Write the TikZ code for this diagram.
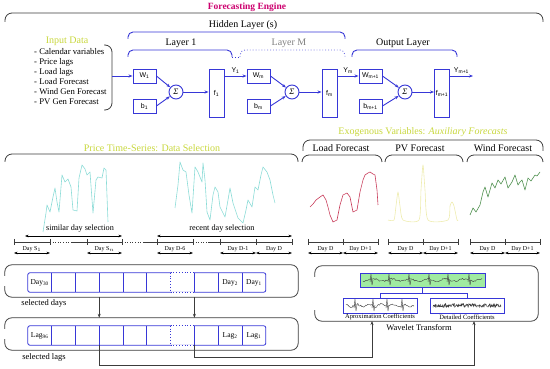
\documentclass[tikz,border=0pt]{standalone}
\usepackage{fontspec}
\setmainfont{Liberation Serif}
\newfontfamily\arialfont{Liberation Sans}
\usetikzlibrary{arrows.meta,positioning,calc}
\definecolor{engine}{RGB}{204,0,110}
\definecolor{lime}{RGB}{200,215,60}
\definecolor{nnblue}{RGB}{55,55,215}
\definecolor{pricecol}{RGB}{140,220,215}
\definecolor{loadcol}{RGB}{200,60,90}
\definecolor{pvcol}{RGB}{238,236,175}
\definecolor{windcol}{RGB}{80,145,80}
\definecolor{wavefill}{RGB}{160,235,160}
\definecolor{brkgray}{RGB}{60,60,60}
\newcommand{\fsz}[1]{\fontsize{#1}{#1}\selectfont}
\tikzset{
  lbl/.style={font=\fsz{10}, inner sep=0pt},
  headlbl/.style={lbl, text=lime},
  nn/.style={draw=nnblue, line width=0.9pt, fill=white, font=\arialfont\fsz{7}, inner sep=0pt, text=black},
  wbox/.style={nn, minimum width=23pt, minimum height=14pt},
  fbox/.style={nn, minimum width=15pt, minimum height=48pt},
  sumnode/.style={nn, circle, minimum size=14pt, font=\itshape\fsz{8.5}},
  ylbl/.style={font=\arialfont\fsz{7}, inner sep=0pt, text=black, above=2pt},
  wire/.style={-{Stealth[length=4pt]}, nnblue, line width=0.9pt},
  brk/.style={draw=brkgray, line width=0.8pt, rounded corners=7pt},
  lbrk/.style={draw=nnblue, line width=0.9pt, rounded corners=5pt},
  tl/.style={brkgray, line width=0.6pt},
  dspan/.style={{Stealth[length=3.5pt]}-{Stealth[length=3.5pt]}, line width=0.7pt, black},
  daylbl/.style={font=\fsz{6}, inner sep=0.5pt},
  cell/.style={minimum width=23.4pt, minimum height=19pt, inner sep=0pt, font=\fsz{7.5}},
  cellline/.style={nnblue, line width=0.8pt},
  gapframe/.style={minimum height=32pt, inner sep=0pt},
  feed/.style={-{Stealth[length=4pt]}, brkgray, line width=0.8pt},
  sig/.style={line width=0.6pt, line join=round},
  wsig/.style={brkgray, line width=0.4pt, line join=round},
  coef/.style={draw=nnblue, line width=0.8pt, fill=white, minimum width=74pt, minimum height=15pt}
}
% frame with the middle of its left side left open
\newcommand{\openframe}[1]{\draw[brk] ($(#1.north west)+(0,-11pt)$) |- (#1.north east) -- (#1.south east) -| ($(#1.south west)+(0,11pt)$);}
\newcommand{\dayspan}[3]{\draw[dspan] (#1,253) -- node[daylbl, above=0.5pt] {#3} (#2,253);}

\begin{document}
\begin{tikzpicture}[x=1pt, y=-1pt]
\useasboundingbox (0,0) rectangle (550,369);
\pgfmathsetseed{3}

% forecasting engine
\node[font=\bfseries\fsz{9.5}, text=engine] (title) at (247,7) {Forecasting Engine};
\draw[brk] (5,22) |- (275,13) -| (543,22);
\node[lbl] (hidden) at (243,25) {Hidden Layer (s)};
\draw[lbrk] (128,39) |- (240,32) -| (345,39);
\node[lbl] (lay1) at (181,43) {Layer 1};
\draw[lbrk] (128,57) |- (180,50) -| (232,57);
\draw[lbrk, dotted] (232,57) -- (240,57);
\node[lbl, text=gray] (laym) at (289,43) {Layer M};
\draw[lbrk, dotted, draw=nnblue!70] (240,57) |- (290,50) -| (345,57);
\node[lbl] (layo) at (403,43) {Output Layer};
\draw[lbrk] (352,57) |- (404,50) -| (457,57);

% inputs
\node[headlbl] (indata) at (67,41) {Input Data};
\node[font=\fontsize{8.7}{10}\selectfont, align=left, inner sep=0pt, anchor=north west] (inlist) at (34,48)
  {- Calendar variables\\- Price lags\\- Load lags\\- Load Forecast\\- Wind Gen Forecast\\- PV Gen Forecast};
\draw[brk] (104,45) -| (112,110) -- (104,110);
\coordinate (inp) at (112,76);

% network
\node[wbox] (w1) at (144.5,76) {W\textsubscript{1}};
\node[wbox] (b1) at (144.5,106) {b\textsubscript{1}};
\node[sumnode] (s1) at (176,92) {Σ};
\node[fbox] (f1) at (216.5,93) {f\textsubscript{1}};
\node[wbox] (wm) at (258.5,76) {W\textsubscript{m}};
\node[wbox] (bm) at (258.5,106) {b\textsubscript{m}};
\node[sumnode] (sm) at (292,92) {Σ};
\node[fbox] (fm) at (329.5,93) {f\textsubscript{m}};
\node[wbox] (wo) at (370.5,76) {W\textsubscript{m+1}};
\node[wbox] (bo) at (370.5,106) {b\textsubscript{m+1}};
\node[sumnode] (so) at (405,92) {Σ};
\node[fbox] (fo) at (442,93) {f\textsubscript{m+1}};
\coordinate (out) at (473,76);

\draw[wire] (inp) -- (w1);
\draw[wire] (w1.east) -- (s1); \draw[wire] (b1.east) -- (s1); \draw[wire] (s1) -- (s1 -| f1.west);
\draw[wire] (f1.east |- wm) -- node[ylbl] {Y\textsubscript{1}} (wm);
\draw[wire] (wm.east) -- (sm); \draw[wire] (bm.east) -- (sm); \draw[wire] (sm) -- (sm -| fm.west);
\draw[wire] (fm.east |- wo) -- node[ylbl] {Y\textsubscript{m}} (wo);
\draw[wire] (wo.east) -- (so); \draw[wire] (bo.east) -- (so); \draw[wire] (so) -- (so -| fo.west);
\draw[wire] (fo.east |- wo) -- node[ylbl] {Y\textsubscript{m+1}} (out);

% price time-series
\node[headlbl] (pricelbl) at (152,148) {Price Time-Series: Data Selection};
\draw[brk] (5,162) |- (150,154) -| (298,162);
\draw[sig, pricecol] (43,232) -- (46,213) -- (47,205) -- (50,212) -- (53,197) -- (55,188) -- (57,202) -- (59,212)
  -- (62,175) -- (65,182) -- (68,179) -- (71,187) -- (73,210) -- (77,211) -- (79,178) -- (82,165) -- (85,169)
  -- (87,175) -- (90,172) -- (93,213) -- (96,180) -- (98,177) -- (102,178) -- (104,168) -- (106,170) -- (108,222);
\draw[sig, pricecol] (175,208) -- (178,185) -- (180,162) -- (183,170) -- (186,172) -- (189,195) -- (192,213)
  -- (195,167) -- (198,172) -- (202,182) -- (203,163) -- (205,180) -- (207,212) -- (210,220) -- (213,195)
  -- (215,187) -- (218,192) -- (220,207) -- (225,217) -- (228,200) -- (230,188) -- (233,203) -- (236,212)
  -- (238,218) -- (243,223) -- (246,210) -- (248,200) -- (252,207) -- (255,187) -- (258,190) -- (261,175)
  -- (263,167) -- (267,172) -- (270,180) -- (273,195) -- (275,203);

% exogenous forecasts
\node[headlbl] (exolbl) at (423,132) {Exogenous Variables: \textit{Auxiliary Forecasts}};
\draw[brk] (303,151) |- (420,140) -| (543,151);
\node[lbl] (loadlbl) at (341,148) {Load Forecast};
\draw[brk] (302,162) |- (340,155) -| (382,162);
\node[lbl] (pvlbl) at (420,148) {PV Forecast};
\draw[brk] (385,162) |- (420,155) -| (463,162);
\node[lbl] (windlbl) at (503,148) {Wind Forecast};
\draw[brk] (467,162) |- (505,155) -| (543,162);
\draw[sig, loadcol] (310,207) -- (313,204) -- (316,200) -- (320,197) -- (323,195) -- (326,200) -- (328,207)
  -- (330,215) -- (333,222) -- (337,220) -- (340,205) -- (343,195) -- (347,193) -- (350,197) -- (353,212)
  -- (357,210) -- (360,192) -- (363,180) -- (365,175) -- (368,173) -- (370,172) -- (373,174) -- (375,175)
  -- (377,190) -- (378,205);
\draw[sig, pvcol] plot[smooth, tension=0.4] coordinates {(388,220) (394,220) (396,206) (398,192) (400,206)
  (403,220) (419,220) (421,190) (423,165) (425,190) (428,220) (448,220) (450,206) (452,202) (454,206) (457,220) (458,220)};
\draw[sig, windcol] (470,215) -- (473,208) -- (476,212) -- (480,205) -- (483,192) -- (485,187) -- (488,197)
  -- (490,190) -- (492,183) -- (495,188) -- (498,180) -- (501,184) -- (505,177) -- (508,188) -- (510,185)
  -- (512,182) -- (515,175) -- (518,185) -- (520,182) -- (522,180) -- (525,190) -- (528,178) -- (531,181)
  -- (535,175) -- (537,176) -- (540,172);

% time axes
\foreach \x in {14,50,87,122,157,193,220,256,292,308,343,378,388,423,458,470,505,540}
  \draw[tl] (\x,239) -- (\x,245);
\foreach \a/\b in {14/50,72/122,143/193,208/292,308/378,388/458,470/540}
  \draw[tl] (\a,242) -- (\b,242);
\foreach \a/\b in {50/72,122/143,193/208}
  \draw[tl, dotted] (\a,242) -- (\b,242);
\dayspan{14}{50}{Day S$_1$} \dayspan{87}{122}{Day S$_n$}
\dayspan{157}{193}{Day D-6} \dayspan{220}{256}{Day D-1} \dayspan{256}{292}{Day D}
\dayspan{308}{343}{Day D} \dayspan{343}{378}{Day D+1}
\dayspan{388}{423}{Day D} \dayspan{423}{458}{Day D+1}
\dayspan{470}{505}{Day D} \dayspan{505}{540}{Day D+1}
\draw[dspan] (25,236) -- (122,236);
\node[font=\fsz{8.2}, inner sep=0pt] (simsel) at (80,229) {similar day selection};
\draw[dspan] (157,236) -- (292,236);
\node[font=\fsz{8.2}, inner sep=0pt] (recsel) at (222,229) {recent day selection};

% selected days
\node[gapframe, minimum width=293pt] (dayframe) at (151.5,281) {};
\openframe{dayframe}
\node[cell] (d1) at (39.7,282.5) {Day\textsubscript{30}};
\foreach \i [count=\j from 2] in {1,...,7} \node[cell, right=0pt of d\i] (d\j) {};
\node[cell, right=0pt of d8] (d9) {Day\textsubscript{2}};
\node[cell, right=0pt of d9] (d10) {Day\textsubscript{1}};
\draw[cellline, rounded corners=2pt] (d1.north west) rectangle (d10.south east);
\foreach \i in {1,...,5,7,8,9} \draw[cellline] (d\i.north east) -- (d\i.south east);
\draw[white, line width=1.4pt] (d7.north west) -- (d7.north east) (d7.south west) -- (d7.south east);
\draw[cellline, dotted] (d6.north east) -- (d6.south east) (d7.north west) -- (d7.north east) (d7.south west) -- (d7.south east);
\node[font=\fsz{8.5}, inner sep=0pt] (daytxt) at (44,303) {selected days};

% selected lags
\node[gapframe, minimum width=293pt] (lagframe) at (151.5,334) {};
\openframe{lagframe}
\node[cell] (l1) at (39.7,335.5) {Lag\textsubscript{96}};
\foreach \i [count=\j from 2] in {1,...,7} \node[cell, right=0pt of l\i] (l\j) {};
\node[cell, right=0pt of l8] (l9) {Lag\textsubscript{2}};
\node[cell, right=0pt of l9] (l10) {Lag\textsubscript{1}};
\draw[cellline, rounded corners=2pt] (l1.north west) rectangle (l10.south east);
\foreach \i in {1,...,5,7,8,9} \draw[cellline] (l\i.north east) -- (l\i.south east);
\draw[white, line width=1.4pt] (l7.north west) -- (l7.north east) (l7.south west) -- (l7.south east);
\draw[cellline, dotted] (l6.north east) -- (l6.south east) (l7.north west) -- (l7.north east) (l7.south west) -- (l7.south east);
\node[font=\fsz{8.5}, inner sep=0pt] (lagtxt) at (44,357) {selected lags};

\draw[feed] (dayframe.south -| d3.east) -- (lagframe.north -| d3.east);
\draw[feed] (dayframe.south -| d7.east) -- (lagframe.north -| d7.east);

% wavelet transform
\node[gapframe, minimum width=223pt, minimum height=55pt] (waveframe) at (426.5,293.5) {};
\openframe{waveframe}
\node[font=\fsz{8.5}, inner sep=0pt] (wavetxt) at (419,328) {Wavelet Transform};
\node[coef, fill=wavefill, minimum width=125pt, minimum height=14pt] (orig) at (422.5,280) {};
\node[coef] (appr) at (380,305.5) {};
\node[coef] (detl) at (467,305.5) {};
\draw[sig, wsig] plot[domain=363:482, samples=110] (\x,{280+1.2*sin(\x*20)+0.8*rand});
\foreach \s in {370,388,408,428,447,468} \draw[wsig] (\s,282) -- (\s+1,274) -- (\s+2,285) -- (\s+3,280);
\draw[wsig] plot[domain=346:414, samples=70] (\x,{305.5+1.3*sin(\x*30)+1*rand});
\foreach \s in {354,372,386,401} \draw[wsig] (\s,308) -- (\s+1,299) -- (\s+2,311) -- (\s+3,305);
\draw[wsig] plot[domain=433:501, samples=170] (\x,{305.5+2.2*rand});
\draw[cellline] (orig.south) -- ++(0,6) coordinate (branch);
\draw[cellline] (appr.north) |- (branch) -| (detl.north);
\node[font=\fsz{6.5}, inner sep=0pt] (apprtxt) at (380,317) {Aproximation Coefficients};
\node[font=\fsz{6.5}, inner sep=0pt] (detltxt) at (467,317) {Detailed Coefficients};

\coordinate (apprin) at (372,321);
\coordinate (detlin) at (474,321);
\draw[feed] (l3.south east) |- (detlin |- 0,365) -- (detlin);
\draw[feed] (l7.south east) |- (apprin |- 0,357) -- (apprin);
\end{tikzpicture}
\end{document}
